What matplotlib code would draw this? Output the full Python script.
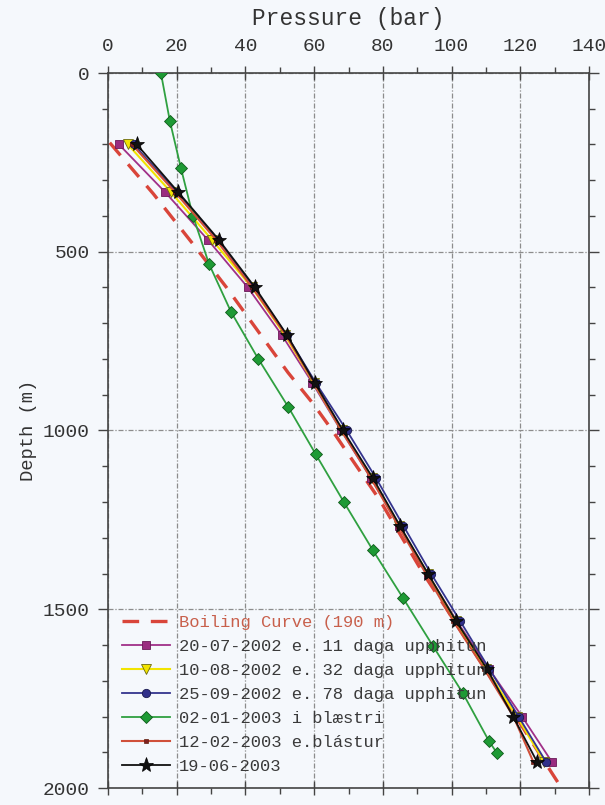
import matplotlib
matplotlib.use('Agg')
import matplotlib.pyplot as plt
from matplotlib.ticker import MultipleLocator

plt.rcParams['font.family'] = ['Liberation Mono', 'DejaVu Sans Mono']

# Boiling curve (water level 190 m)
boil_depth = [195, 338, 478, 600, 700, 838, 925, 1000, 1064, 1196, 1300, 1399, 1500, 1600, 1700, 1800, 1900, 2000]
boil_pres = [0.5, 13.2, 24.7, 34.5, 42.0, 52.4, 59.7, 65.3, 69.8, 79.2, 85.6, 91.7, 98.6, 105.3, 112.0, 118.7, 125.3, 132.0]

# Measurement depths (m)
depth_main = [200, 333, 467, 600, 733, 867, 1000, 1133, 1267, 1400, 1533, 1667, 1800, 1927]
depth_green = [0, 134, 265, 399, 534, 668, 799, 933, 1067, 1201, 1335, 1469, 1603, 1735, 1869, 1902]

# Pressures (bar)
p_20072002 = [3.2, 16.6, 29.1, 40.7, 50.6, 59.5, 67.8, 76.5, 84.8, 93.0, 101.5, 110.9, 120.5, 129.2]
p_10082002 = [5.8, 18.3, 30.3, 41.9, 51.5, 59.9, 68.0, 76.8, 84.8, 93.0, 101.2, 110.0, 119.0, 127.0]
p_25092002 = [7.5, 20.0, 32.0, 42.5, 52.0, 60.5, 69.5, 78.0, 86.0, 94.0, 102.5, 111.0, 119.5, 127.5]
p_02012003 = [15.4, 18.0, 21.2, 24.7, 29.4, 35.8, 43.7, 52.4, 60.5, 68.7, 77.1, 85.9, 94.6, 103.3, 110.9, 113.2]
p_12022003 = [7.0, 19.5, 31.5, 42.0, 51.8, 60.0, 68.0, 76.5, 84.5, 92.5, 100.5, 109.5, 118.0, 123.8]
p_19062003 = [8.4, 20.4, 32.3, 42.8, 52.1, 60.2, 68.4, 77.1, 85.0, 93.1, 101.3, 110.3, 117.9, 124.9]

labels = ['Boiling Curve (190 m)',
          '20-07-2002 e. 11 daga upphitun',
          '10-08-2002 e. 32 daga upphitun',
          '25-09-2002 e. 78 daga upphitun',
          '02-01-2003 i blæstri',
          '12-02-2003 e.blástur',
          '19-06-2003']

bg = '#f5f8fc'
fig = plt.figure(figsize=(6.05, 8.05), dpi=100, facecolor=bg)
ax = fig.add_axes([108/605, 1-788/805, (589-108)/605, (788-73)/805])
ax.set_facecolor(bg)

ax.plot(boil_pres, boil_depth, color='#d9453a', lw=2.4, dashes=(5, 3.5), label=labels[0], zorder=2)
ax.plot(p_20072002, depth_main, color='#a03088', lw=1.3, marker='s', ms=6,
        mfc='#9a2c80', mec='#6a1a58', mew=0.6, label=labels[1], zorder=3)
ax.plot(p_10082002, depth_main, color='#f2e400', lw=1.5, marker='v', ms=7,
        mfc='#f2e400', mec='#6a6a10', mew=0.6, label=labels[2], zorder=3)
ax.plot(p_25092002, depth_main, color='#34348e', lw=1.3, marker='o', ms=6,
        mfc='#30308a', mec='#1a1a50', mew=0.6, label=labels[3], zorder=3)
ax.plot(p_02012003, depth_green, color='#2fa040', lw=1.3, marker='D', ms=6.5,
        mfc='#1e9a35', mec='#0f5a1a', mew=0.6, label=labels[4], zorder=3)
ax.plot(p_12022003, depth_main, color='#d0503a', lw=1.5, marker='s', ms=3,
        mfc='#802020', mec='#602010', mew=0.5, label=labels[5], zorder=3)
ax.plot(p_19062003, depth_main, color='#111111', lw=1.3, marker='*', ms=11,
        mfc='#111111', mec='#000000', mew=0.5, label=labels[6], zorder=4)

ax.set_xlim(0, 140)
ax.set_ylim(2000, 0)
ax.xaxis.set_major_locator(MultipleLocator(20))
ax.xaxis.set_minor_locator(MultipleLocator(10))
ax.yaxis.set_major_locator(MultipleLocator(500))
ax.yaxis.set_minor_locator(MultipleLocator(100))

tc = '#333333'
ax.tick_params(axis='x', which='major', direction='inout', length=10, width=1,
               top=True, bottom=True, labeltop=True, labelbottom=False,
               labelsize=14, labelcolor=tc, color='#444444', pad=8)
ax.tick_params(axis='x', which='minor', direction='out', length=4, width=1,
               top=True, bottom=True, color='#444444')
ax.tick_params(axis='y', which='major', direction='out', length=7, width=1,
               left=True, right=True, labelleft=True, labelright=False,
               labelsize=14, labelcolor=tc, color='#444444', pad=6)
ax.tick_params(axis='y', which='minor', direction='out', length=4, width=1,
               left=True, right=True, color='#444444')
ax.xaxis.set_label_position('top')
ax.set_xlabel('Pressure (bar)', fontsize=16.5, color=tc, labelpad=9)
ax.set_ylabel('Depth (m)', fontsize=13.5, color=tc, labelpad=4)

for s in ax.spines.values():
    s.set_color('#444444')
    s.set_linewidth(1.2)

ax.grid(True, which='major', color='#8c8c8c', lw=0.9, linestyle=(0, (4, 1.5, 1, 1.5)), zorder=0)
ax.set_axisbelow(True)

leg = ax.legend(loc='lower left', bbox_to_anchor=(0.029, 0.02), frameon=False,
                prop={'size': 12.3}, handlelength=2.8, handletextpad=0.55, labelspacing=0.52,
                borderpad=0.0, borderaxespad=0.0)
for i, t in enumerate(leg.get_texts()):
    t.set_color('#c8604c' if i == 0 else '#3a3a3a')

fig.savefig('out.png', dpi=100, facecolor=bg)
